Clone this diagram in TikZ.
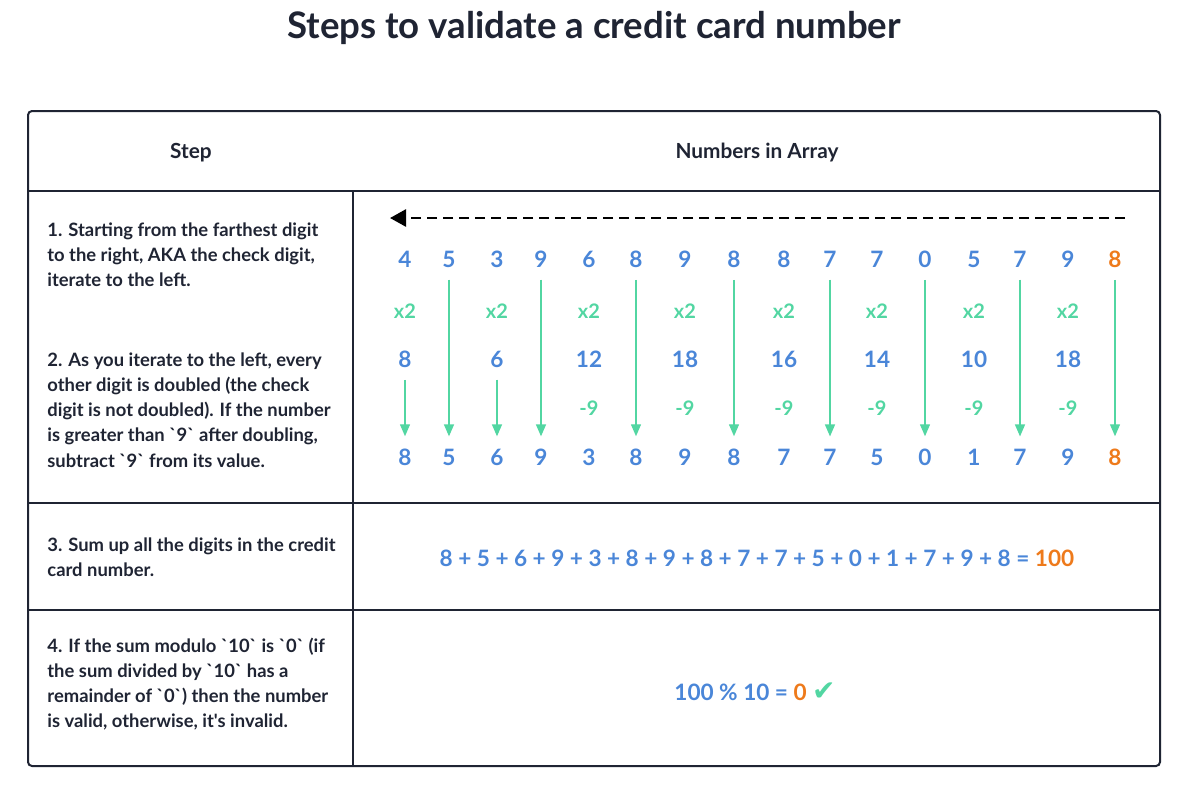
\documentclass[tikz,border=0pt]{standalone}
\usepackage{fontspec}
\setmainfont{Lato}[Ligatures=TeXOff]
\newfontfamily\symfont{DejaVu Sans}
\usetikzlibrary{arrows.meta, positioning}
\definecolor{navy}{HTML}{1F2433}
\definecolor{digitblue}{HTML}{4A86D8}
\definecolor{mint}{HTML}{52D6A2}
\definecolor{checkorange}{HTML}{EE7A1B}

\begin{document}
\begin{tikzpicture}[
    x=0.5pt, y=-0.5pt,
    grid/.style={draw=navy, line width=1pt},
    head/.style={font=\bfseries\fontsize{10.4}{12}\selectfont, text=navy},
    cell/.style={
        anchor=west,
        align=left,
        inner sep=0pt,
        text=navy,
        font=\bfseries\fontsize{9.2}{12.6}\selectfont
    },
    digit/.style={inner sep=0pt, font=\bfseries\fontsize{11.3}{13}\selectfont, text=digitblue},
    op/.style={inner sep=0pt, font=\bfseries\fontsize{10}{12}\selectfont, text=mint},
    garrow/.style={-{Triangle[width=5pt, length=6pt]}, draw=mint, line width=0.7pt,
        shorten <=6pt, shorten >=6pt}
]
\useasboundingbox (0,0) rectangle (1188,789);

% title
\node[font=\bfseries\fontsize{18.3}{21}\selectfont, text=navy] (title) at (594,28)
    {Steps to validate a credit card number};

% table frame
\draw[grid, rounded corners=2pt] (28,111) rectangle (1160,766);
\draw[grid] (28,191) -- (1160,191);
\draw[grid] (28,503) -- (1160,503);
\draw[grid] (28,610) -- (1160,610);
\draw[grid] (353,191) -- (353,766);

% header row
\node[head] (hstep) at (191,153) {Step};
\node[head] (hnum) at (757,153) {Numbers in Array};

% step descriptions
\node[cell] (step1) at (47,255) {1. Starting from the farthest digit\\to the right, AKA the check digit,\\iterate to the left.};
\node[cell] (step2) at (47,410) {2. As you iterate to the left, every\\other digit is doubled (the check\\digit is not doubled). If the number\\is greater than `9` after doubling,\\subtract `9` from its value.};
\node[cell] (step3) at (47,557) {3. Sum up all the digits in the credit\\card number.};
\node[cell] (step4) at (47,684) {4. If the sum modulo `10` is `0` (if\\the sum divided by `10` has a\\remainder of `0`) then the number\\is valid, otherwise, it's invalid.};

% iteration direction
\coordinate (dashstart) at (1125,218);
\coordinate (dashend) at (390,218);
\draw[-{Triangle[width=8.5pt, length=8pt]}, line width=1.3pt, dash pattern=on 5pt off 3pt]
    (dashstart) -- (dashend);

% card digits and results
\foreach \x/\top/\bot/\col [count=\i] in {
    405/4/8/digitblue, 449/5/5/digitblue, 497/3/6/digitblue, 541/9/9/digitblue,
    589/6/3/digitblue, 636/8/8/digitblue, 685/9/9/digitblue, 734/8/8/digitblue,
    784/8/7/digitblue, 830/7/7/digitblue, 877/7/5/digitblue, 925/0/0/digitblue,
    974/5/1/digitblue, 1020/7/7/digitblue, 1068/9/9/digitblue, 1115/8/8/checkorange} {
    \node[digit, text=\col] (t\i) at (\x,259) {\top};
    \node[digit, text=\col] (b\i) at (\x,457) {\bot};
}

% doubled digits
\foreach \x/\dbl/\sub [count=\i] in {
    405/8/, 497/6/, 589/12/-9, 685/18/-9,
    784/16/-9, 877/14/-9, 974/10/-9, 1068/18/-9} {
    \node[op] (m\i) at (\x,311) {x2};
    \node[digit] (d\i) at (\x,359) {\dbl};
    \node[op] (s\i) at (\x,408) {\sub};
}

% kept digits drop straight down
\foreach \i in {2,4,6,8,10,12,14,16}
    \draw[garrow] (t\i) -- (b\i);
\draw[garrow] (d1) -- (b1);
\draw[garrow] (d2) -- (b3);

% sum and modulo
\node[digit] (sum) at (757,558)
    {8 + 5 + 6 + 9 + 3 + 8 + 9 + 8 + 7 + 7 + 5 + 0 + 1 + 7 + 9 + 8 = \textcolor{checkorange}{100}};
\node[digit] (modulo) at (755,692)
    {100 \% 10 = \textcolor{checkorange}{0} \textcolor{mint}{\symfont\fontsize{14}{14}\selectfont ✔}};

\end{tikzpicture}
\end{document}
